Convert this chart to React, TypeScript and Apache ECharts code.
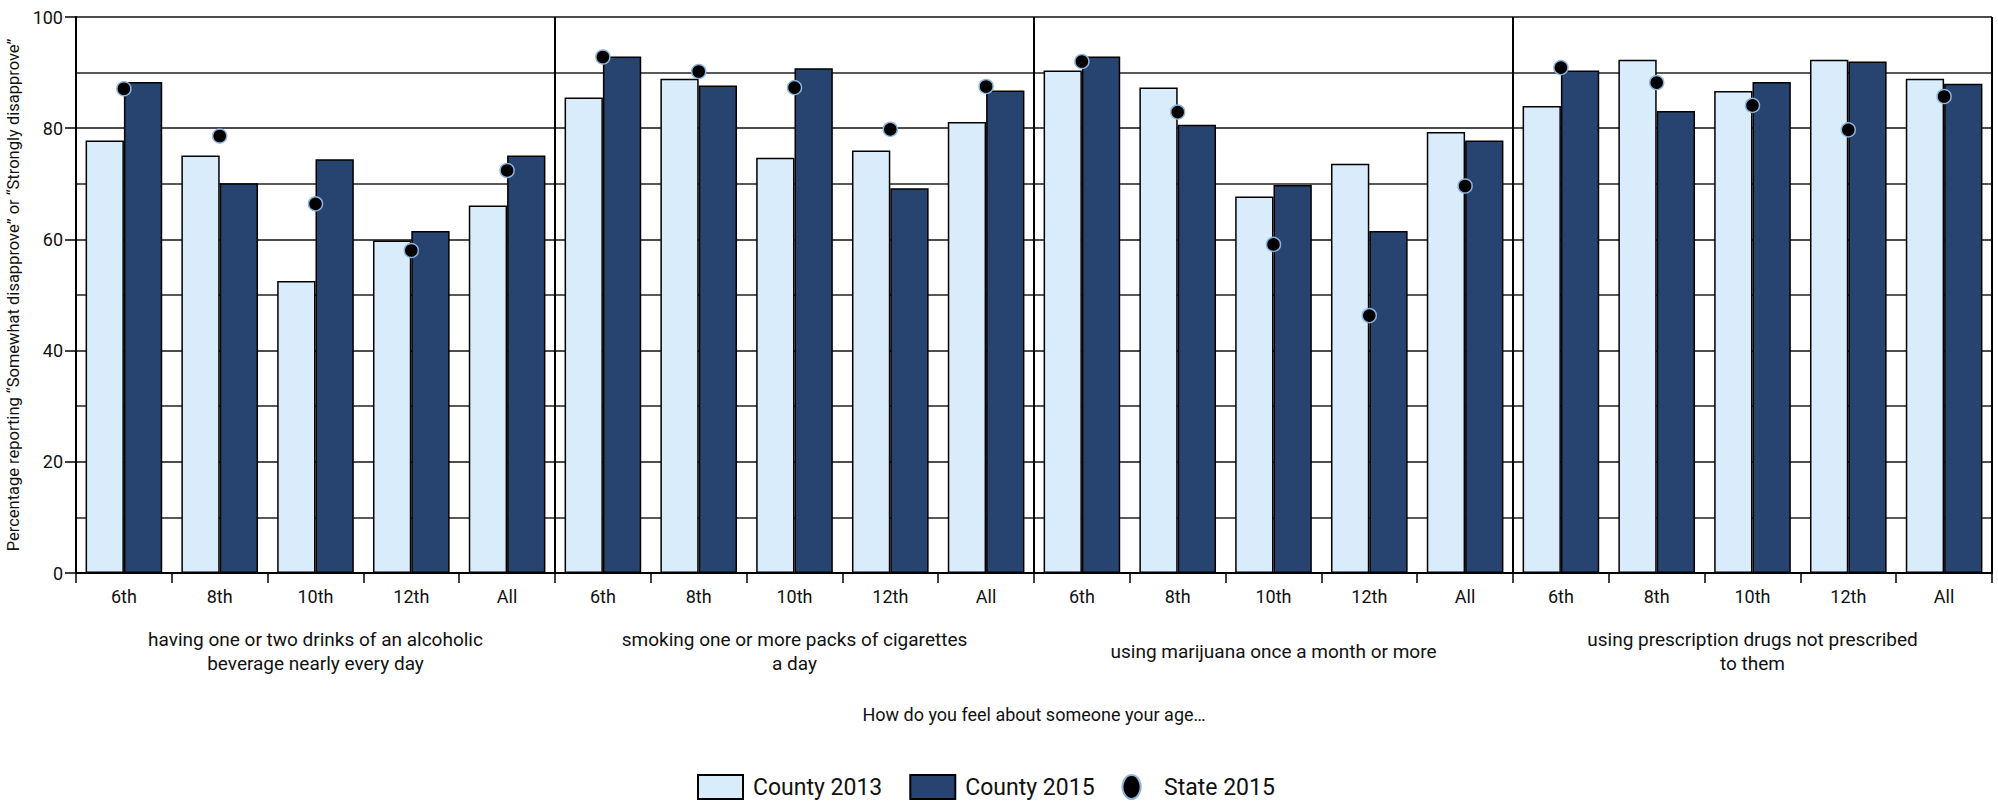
import React, { useEffect, useRef } from "react";
import * as echarts from "echarts";

const grades = ["6th", "8th", "10th", "12th", "All"];
const behaviors = [
  "having one or two drinks of an alcoholic\nbeverage nearly every day",
  "smoking one or more packs of cigarettes\na day",
  "using marijuana once a month or more",
  "using prescription drugs not prescribed\nto them",
];
const county2013 = [77.8, 75.1, 52.5, 59.8, 66.1, 85.5, 88.9, 74.7, 76.0, 81.1, 90.4, 87.3, 67.7, 73.6, 79.3, 84.0, 92.3, 86.7, 92.3, 88.9];
const county2015 = [88.3, 70.1, 74.4, 61.5, 75.1, 92.9, 87.7, 90.8, 69.2, 86.8, 92.9, 80.6, 69.8, 61.5, 77.8, 90.4, 83.1, 88.3, 92.0, 88.0];
const state2015 = [87.1, 78.6, 66.4, 58.0, 72.4, 92.8, 90.2, 87.3, 79.8, 87.5, 92.0, 82.9, 59.1, 46.3, 69.6, 90.9, 88.2, 84.1, 79.7, 85.7];
const yTicks = [0, 20, 40, 60, 80, 100];
const seriesNames = ["County 2013", "County 2015", "State 2015"];
const yAxisTitle = "Percentage reporting \u201cSomewhat disapprove\u201d or \u201cStrongly disapprove\u201d";
const xAxisTitle = "How do you feel about someone your age\u2026";

const FONT = "Roboto, 'Liberation Sans', sans-serif";
const TXT = "#111";

export default function App() {
  const ref = useRef<HTMLDivElement>(null);
  useEffect(() => {
    if (!ref.current) return;
    const chart = echarts.init(ref.current, null, { renderer: "svg" });
    const categories: string[] = [];
    behaviors.forEach((_, b) => grades.forEach((g) => categories.push(b + "|" + g)));
    const option: any = {
      animation: false,
      backgroundColor: "#fff",
      textStyle: { fontFamily: FONT },
      grid: { left: 76, right: 6, top: 17, bottom: 230, containLabel: false, outerBoundsMode: "none" },
      legend: {
        left: 697,
        top: 774,
        padding: 0,
        itemWidth: 45,
        itemHeight: 24,
        itemGap: 27,
        textStyle: { fontFamily: FONT, fontSize: 23, color: TXT, lineHeight: 24, padding: [0, 0, 0, 5] },
        data: [
          { name: seriesNames[0], icon: "rect" },
          { name: seriesNames[1], icon: "rect" },
          { name: seriesNames[2], icon: "path://M9,0 A9,12 0 1,1 8.99,0 Z" },
        ],
      },
      graphic: [
        {
          type: "text",
          x: 1034,
          y: 714,
          style: {
            text: xAxisTitle,
            fontFamily: FONT,
            fontSize: 18,
            fill: TXT,
            align: "center",
            verticalAlign: "middle",
            textAlign: "center",
            textVerticalAlign: "middle",
          },
        },
      ],
      xAxis: [
        {
          type: "category",
          data: categories,
          boundaryGap: true,
          axisLine: { show: true, lineStyle: { color: "#000", width: 2 } },
          axisTick: { show: true, length: 10, lineStyle: { color: "#000", width: 1.5 }, interval: 0 },
          axisLabel: {
            interval: 0,
            margin: 14,
            fontFamily: FONT,
            fontSize: 18,
            lineHeight: 18,
            color: TXT,
            formatter: (v: string) => v.split("|")[1],
          },
          splitLine: { show: false },
          z: 5,
        },
        {
          type: "category",
          data: behaviors,
          position: "bottom",
          boundaryGap: true,
          axisLine: { show: false },
          axisTick: { show: false },
          axisLabel: {
            interval: 0,
            margin: 78,
            fontFamily: FONT,
            fontSize: 19,
            lineHeight: 24,
            color: TXT,
            verticalAlign: "middle",
            align: "center",
          },
          splitLine: { show: true, lineStyle: { color: "#000", width: 2 } },
        },
      ],
      yAxis: {
        type: "value",
        min: yTicks[0],
        max: yTicks[yTicks.length - 1],
        interval: yTicks[1] - yTicks[0],
        name: yAxisTitle,
        nameLocation: "middle",
        nameGap: 35,
        nameTextStyle: { fontFamily: FONT, fontSize: 16.5, color: TXT },
        axisLine: { show: true, lineStyle: { color: "#000", width: 2 } },
        axisTick: { show: true, length: 11, lineStyle: { color: "#000", width: 1.5 } },
        axisLabel: { margin: 13, fontFamily: FONT, fontSize: 18, color: TXT },
        splitLine: { show: true, lineStyle: { color: "#111", width: 1.5 } },
        minorTick: { show: false, splitNumber: 2 },
        minorSplitLine: { show: true, lineStyle: { color: "#222", width: 1.5 } },
      },
      series: [
        {
          name: seriesNames[0],
          type: "bar",
          data: county2013,
          barGap: "0%",
          barCategoryGap: "20%",
          itemStyle: { color: "#D8ECFC", borderColor: "#000", borderWidth: 1.5 },
        },
        {
          name: seriesNames[1],
          type: "bar",
          data: county2015,
          barGap: "0%",
          barCategoryGap: "20%",
          itemStyle: { color: "#26446F", borderColor: "#000", borderWidth: 1.5 },
        },
        {
          name: seriesNames[2],
          type: "scatter",
          data: state2015,
          symbol: "circle",
          symbolSize: 14,
          z: 10,
          itemStyle: { color: "#000", borderColor: "#8DB3DB", borderWidth: 1.5, opacity: 1 },
        },
      ],
    };
    chart.setOption(option);
    return () => chart.dispose();
  }, []);
  return <div ref={ref} style={{ position: "absolute", left: 0, top: 0, width: 1998, height: 803 }} />;
}
